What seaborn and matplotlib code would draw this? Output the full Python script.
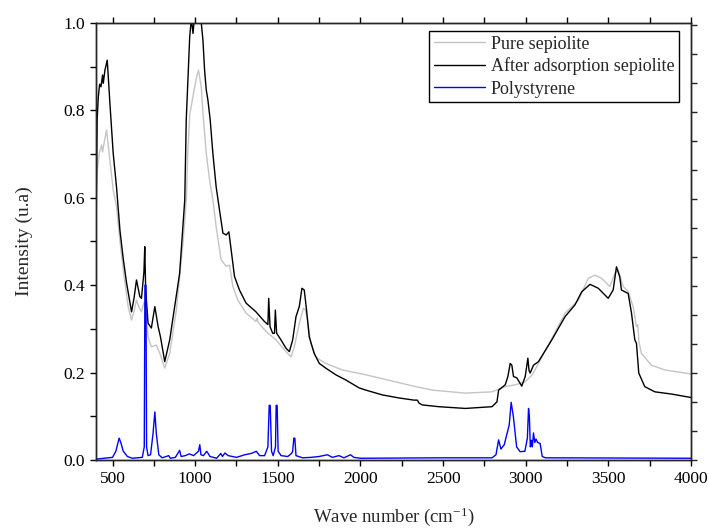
import matplotlib
matplotlib.use("Agg")
import matplotlib.pyplot as plt
from matplotlib.ticker import MultipleLocator, FormatStrFormatter
import numpy as np
import pandas as pd
import seaborn as sns

# ---- spectra (wavenumber in cm-1, normalised intensity) ----
pure_wn = [400, 408, 420, 434, 440, 450, 464, 484, 504, 524, 545, 570, 595, 615, 630,
           645, 660, 675, 690, 700, 715, 735, 765, 786, 816, 846, 886, 926, 937, 947,
           955, 967, 983, 997, 1011, 1020, 1037, 1047, 1067, 1087, 1107, 1127, 1157,
           1188, 1208, 1228, 1258, 1308, 1368, 1375, 1380, 1429, 1489, 1549, 1580, 1600,
           1630, 1655, 1665, 1680, 1700, 1730, 1751, 1791, 1891, 2032, 2233, 2333, 2434,
           2635, 2796, 2876, 2936, 2997, 3040, 3077, 3158, 3238, 3319, 3379, 3419, 3459,
           3509, 3539, 3559, 3590, 3620, 3650, 3670, 3678, 3685, 3700, 3760, 3841, 4000]
pure_int = [0.55, 0.664, 0.702, 0.721, 0.705, 0.728, 0.755, 0.686, 0.618, 0.58, 0.50, 0.42,
            0.35, 0.32, 0.34, 0.366, 0.35, 0.339, 0.36, 0.345, 0.282, 0.259, 0.263, 0.244,
            0.21, 0.244, 0.343, 0.496, 0.549, 0.60, 0.70, 0.79, 0.824, 0.854, 0.88, 0.892,
            0.854, 0.794, 0.702, 0.641, 0.595, 0.534, 0.458, 0.443, 0.446, 0.397, 0.366,
            0.336, 0.317, 0.325, 0.315, 0.294, 0.275, 0.248, 0.236, 0.259, 0.313, 0.347,
            0.345, 0.32, 0.267, 0.236, 0.23, 0.221, 0.206, 0.195, 0.177, 0.168, 0.16, 0.153,
            0.156, 0.168, 0.172, 0.179, 0.195, 0.221, 0.278, 0.336, 0.366, 0.416, 0.423,
            0.416, 0.397, 0.427, 0.435, 0.397, 0.385, 0.351, 0.305, 0.31, 0.27, 0.244,
            0.217, 0.206, 0.197]

after_wn = [400, 407, 414, 422, 430, 440, 444, 454, 468, 484, 504, 524, 545, 565, 585, 615,
            630, 645, 665, 675, 690, 695, 700, 705, 715, 735, 756, 776, 790, 816, 846, 876,
            906, 937, 946, 967, 977, 987, 997, 1020, 1037, 1047, 1057, 1067, 1077, 1091,
            1107, 1127, 1148, 1168, 1188, 1204, 1218, 1238, 1268, 1308, 1368, 1419, 1440,
            1445, 1453, 1469, 1480, 1485, 1493, 1519, 1549, 1570, 1590, 1610, 1630, 1646,
            1660, 1674, 1690, 1720, 1751, 1791, 1851, 1912, 1992, 2032, 2132, 2233, 2324,
            2344, 2355, 2374, 2474, 2635, 2796, 2826, 2836, 2876, 2892, 2906, 2916, 2926,
            2946, 2976, 2997, 3013, 3020, 3027, 3047, 3077, 3158, 3238, 3298, 3339, 3389,
            3439, 3499, 3529, 3549, 3569, 3579, 3620, 3640, 3660, 3670, 3684, 3720, 3781,
            3881, 4000]
after_int = [0.549, 0.78, 0.831, 0.86, 0.854, 0.881, 0.862, 0.892, 0.915, 0.817, 0.702,
             0.625, 0.525, 0.46, 0.405, 0.339, 0.37, 0.412, 0.374, 0.37, 0.43, 0.488, 0.40,
             0.366, 0.313, 0.302, 0.351, 0.305, 0.282, 0.225, 0.275, 0.351, 0.427, 0.595,
             0.778, 0.969, 1.01, 0.976, 1.02, 1.03, 1.0, 0.961, 0.892, 0.847, 0.824, 0.778,
             0.702, 0.625, 0.57, 0.519, 0.515, 0.522, 0.48, 0.42, 0.389, 0.359, 0.339, 0.317,
             0.31, 0.37, 0.305, 0.29, 0.29, 0.343, 0.29, 0.275, 0.256, 0.248, 0.275, 0.328,
             0.351, 0.393, 0.389, 0.343, 0.282, 0.244, 0.221, 0.21, 0.195, 0.183, 0.165, 0.16,
             0.149, 0.142, 0.137, 0.137, 0.13, 0.126, 0.122, 0.118, 0.122, 0.133, 0.16, 0.172,
             0.191, 0.221, 0.217, 0.191, 0.188, 0.169, 0.191, 0.233, 0.205, 0.199, 0.217,
             0.225, 0.275, 0.328, 0.355, 0.385, 0.402, 0.393, 0.37, 0.389, 0.442, 0.419,
             0.389, 0.381, 0.336, 0.275, 0.267, 0.199, 0.168, 0.156, 0.151, 0.143]

ps_wn = [400, 450, 500, 520, 540, 550, 565, 590, 620, 650, 680, 692, 696, 702, 706, 715,
         730, 745, 756, 765, 780, 800, 840, 850, 880, 906, 915, 940, 965, 990, 1020, 1028,
         1035, 1050, 1070, 1090, 1130, 1155, 1165, 1180, 1200, 1250, 1300, 1340, 1370,
         1390, 1420, 1440, 1448, 1454, 1462, 1472, 1486, 1490, 1496, 1502, 1520, 1560,
         1583, 1590, 1597, 1603, 1610, 1650, 1700, 1750, 1800, 1830, 1870, 1900, 1940,
         1960, 2000, 2500, 2796, 2820, 2836, 2850, 2870, 2900, 2912, 2925, 2945, 2966,
         2995, 3010, 3017, 3022, 3028, 3035, 3040, 3047, 3055, 3062, 3072, 3087, 3100,
         3120, 4000]
ps_int = [0.002, 0.004, 0.006, 0.02, 0.05, 0.04, 0.02, 0.008, 0.004, 0.005, 0.006, 0.03,
          0.40, 0.40, 0.03, 0.01, 0.012, 0.06, 0.11, 0.06, 0.012, 0.005, 0.01, 0.004, 0.006,
          0.022, 0.008, 0.01, 0.014, 0.01, 0.02, 0.035, 0.012, 0.01, 0.02, 0.008, 0.004,
          0.015, 0.008, 0.016, 0.01, 0.006, 0.012, 0.015, 0.02, 0.01, 0.01, 0.03, 0.125,
          0.125, 0.02, 0.01, 0.03, 0.125, 0.125, 0.02, 0.01, 0.008, 0.015, 0.02, 0.05, 0.05,
          0.01, 0.005, 0.006, 0.008, 0.012, 0.006, 0.01, 0.005, 0.012, 0.006, 0.004, 0.005,
          0.005, 0.012, 0.046, 0.025, 0.035, 0.08, 0.132, 0.10, 0.03, 0.019, 0.02, 0.05,
          0.118, 0.10, 0.03, 0.045, 0.03, 0.062, 0.04, 0.048, 0.04, 0.038, 0.008, 0.005,
          0.004]

labels = ["Pure sepiolite", "After adsorption sepiolite", "Polystyrene"]
colors = ["#c4c4c4", "#000000", "#0000ff"]

frames = []
for name, wn, inten in zip(labels, [pure_wn, after_wn, ps_wn], [pure_int, after_int, ps_int]):
    frames.append(pd.DataFrame({"wn": wn, "I": inten, "sample": name}))
df = pd.concat(frames, ignore_index=True)

sns.set_style("ticks")
plt.rcParams["font.family"] = ["Liberation Serif", "DejaVu Serif"]
plt.rcParams["mathtext.default"] = "regular"
plt.rcParams["axes.linewidth"] = 1.0

fig = plt.figure(figsize=(7.09, 5.29), dpi=100)
ax = fig.add_axes([96 / 709, 1 - 460 / 529, 595 / 709, 437 / 529])

for name, col in zip(labels, colors):
    sub = df[df["sample"] == name]
    sns.lineplot(data=sub, x="wn", y="I", ax=ax, color=col, lw=1.0, label=name,
                 sort=False, estimator=None)

ax.set_xlim(400, 4000)
ax.set_ylim(0, 1.0)
ax.xaxis.set_major_locator(MultipleLocator(500))
ax.xaxis.set_minor_locator(MultipleLocator(250))
ax.yaxis.set_major_locator(MultipleLocator(0.2))
ax.yaxis.set_minor_locator(MultipleLocator(0.1))
ax.yaxis.set_major_formatter(FormatStrFormatter("%.1f"))
ax.tick_params(which="both", direction="out", length=4.5, width=1.0, labelsize=12.5,
               colors="black", top=True, right=False)
ax.tick_params(which="both", axis="x", labeltop=False)
for sp in ax.spines.values():
    sp.set_visible(True)
    sp.set_color("black")

# right-hand axis of the second layer: ticks only
ax2 = ax.twinx()
ax2.set_ylim(0, 1.507)
ax2.yaxis.set_major_locator(MultipleLocator(0.1))
ax2.tick_params(axis="y", direction="out", length=4, width=1.0, labelright=False)

ax.set_xlabel(r"Wave number (cm$^{-1}$)", fontsize=13.5, labelpad=13)
ax.set_ylabel("Intensity (u.a)", fontsize=14, labelpad=22)

leg = ax.legend(loc="upper right", bbox_to_anchor=((679 - 96) / 595, (460 - 31) / 437),
                borderaxespad=0, fontsize=13, frameon=True, fancybox=False,
                handlelength=2.8, handletextpad=0.35, labelspacing=0.28,
                borderpad=0.25)
leg.get_frame().set_edgecolor("black")
leg.get_frame().set_linewidth(1.0)
leg.get_frame().set_alpha(1)

fig.savefig("out.png", dpi=100)
